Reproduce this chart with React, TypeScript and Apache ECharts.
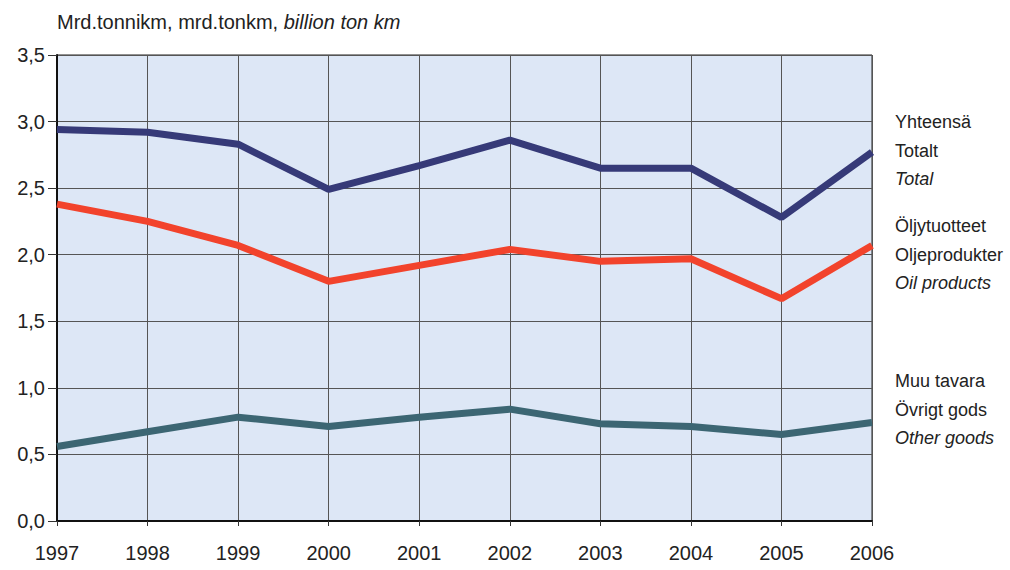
import React, { useEffect, useRef } from "react";
import * as echarts from "echarts";

const years = ["1997", "1998", "1999", "2000", "2001", "2002", "2003", "2004", "2005", "2006"];
const totalValues = [2.94, 2.92, 2.83, 2.49, 2.67, 2.86, 2.65, 2.65, 2.28, 2.77];
const oilValues = [2.38, 2.25, 2.07, 1.80, 1.92, 2.04, 1.95, 1.97, 1.67, 2.07];
const otherValues = [0.56, 0.67, 0.78, 0.71, 0.78, 0.84, 0.73, 0.71, 0.65, 0.74];
const totalLabels = ["Yhteensä", "Totalt", "Total"];
const oilLabels = ["Öljytuotteet", "Oljeprodukter", "Oil products"];
const otherLabels = ["Muu tavara", "Övrigt gods", "Other goods"];

const FONT = "'Liberation Sans', Arial, sans-serif";

export default function App() {
  const ref = useRef<HTMLDivElement>(null);
  useEffect(() => {
    document.body.style.margin = "0";
    const chart = echarts.init(ref.current!, null, { renderer: "svg" });
    const labelBlock = (lines: string[], cy: number) =>
      lines.map((t, i) => ({
        type: "text",
        x: 895,
        y: cy + i * 28.5,
        style: {
          text: t,
          font: `${i === 2 ? "italic " : ""}18px ${FONT}`,
          fill: "#222",
          verticalAlign: "middle",
        },
      }));
    chart.setOption({
      animation: false,
      backgroundColor: "#ffffff",
      grid: {
        left: 57,
        right: 138,
        top: 55,
        bottom: 49,
        show: true,
        backgroundColor: "#dde7f6",
        borderColor: "#222",
        borderWidth: 1,
      },
      xAxis: {
        type: "category",
        data: years,
        boundaryGap: false,
        axisLine: { lineStyle: { color: "#111", width: 2 } },
        axisTick: { show: true, length: 5, lineStyle: { color: "#333" } },
        axisLabel: { color: "#222", fontSize: 20, fontFamily: FONT, margin: 22 },
        splitLine: { show: true, lineStyle: { color: "#555", width: 1 } },
      },
      yAxis: {
        type: "value",
        min: 0,
        max: 3.5,
        interval: 0.5,
        axisLine: { show: true, lineStyle: { color: "#111", width: 2 } },
        axisTick: { show: true, length: 9, lineStyle: { color: "#333" } },
        axisLabel: {
          color: "#222",
          fontSize: 20,
          fontFamily: FONT,
          margin: 12,
          formatter: (v: number) => v.toFixed(1).replace(".", ","),
        },
        splitLine: { show: true, lineStyle: { color: "#555", width: 1 } },
      },
      series: [
        { name: "Total", type: "line", data: totalValues, symbol: "none", lineStyle: { color: "#363a78", width: 7 } },
        { name: "Oil products", type: "line", data: oilValues, symbol: "none", lineStyle: { color: "#f2432c", width: 7 } },
        { name: "Other goods", type: "line", data: otherValues, symbol: "none", lineStyle: { color: "#3c6673", width: 7 } },
      ],
      graphic: [
        {
          type: "text",
          x: 57,
          y: 22,
          style: {
            text: "{n|Mrd.tonnikm, mrd.tonkm, }{i|billion ton km}",
            verticalAlign: "middle",
            rich: {
              n: { font: `20px ${FONT}`, fill: "#222" },
              i: { font: `italic 20px ${FONT}`, fill: "#222" },
            },
          },
        },
        ...labelBlock(totalLabels, 122),
        ...labelBlock(oilLabels, 226),
        ...labelBlock(otherLabels, 381),
      ],
    });
    return () => chart.dispose();
  }, []);
  return <div ref={ref} style={{ position: "absolute", left: 0, top: 0, width: 1010, height: 570 }} />;
}
